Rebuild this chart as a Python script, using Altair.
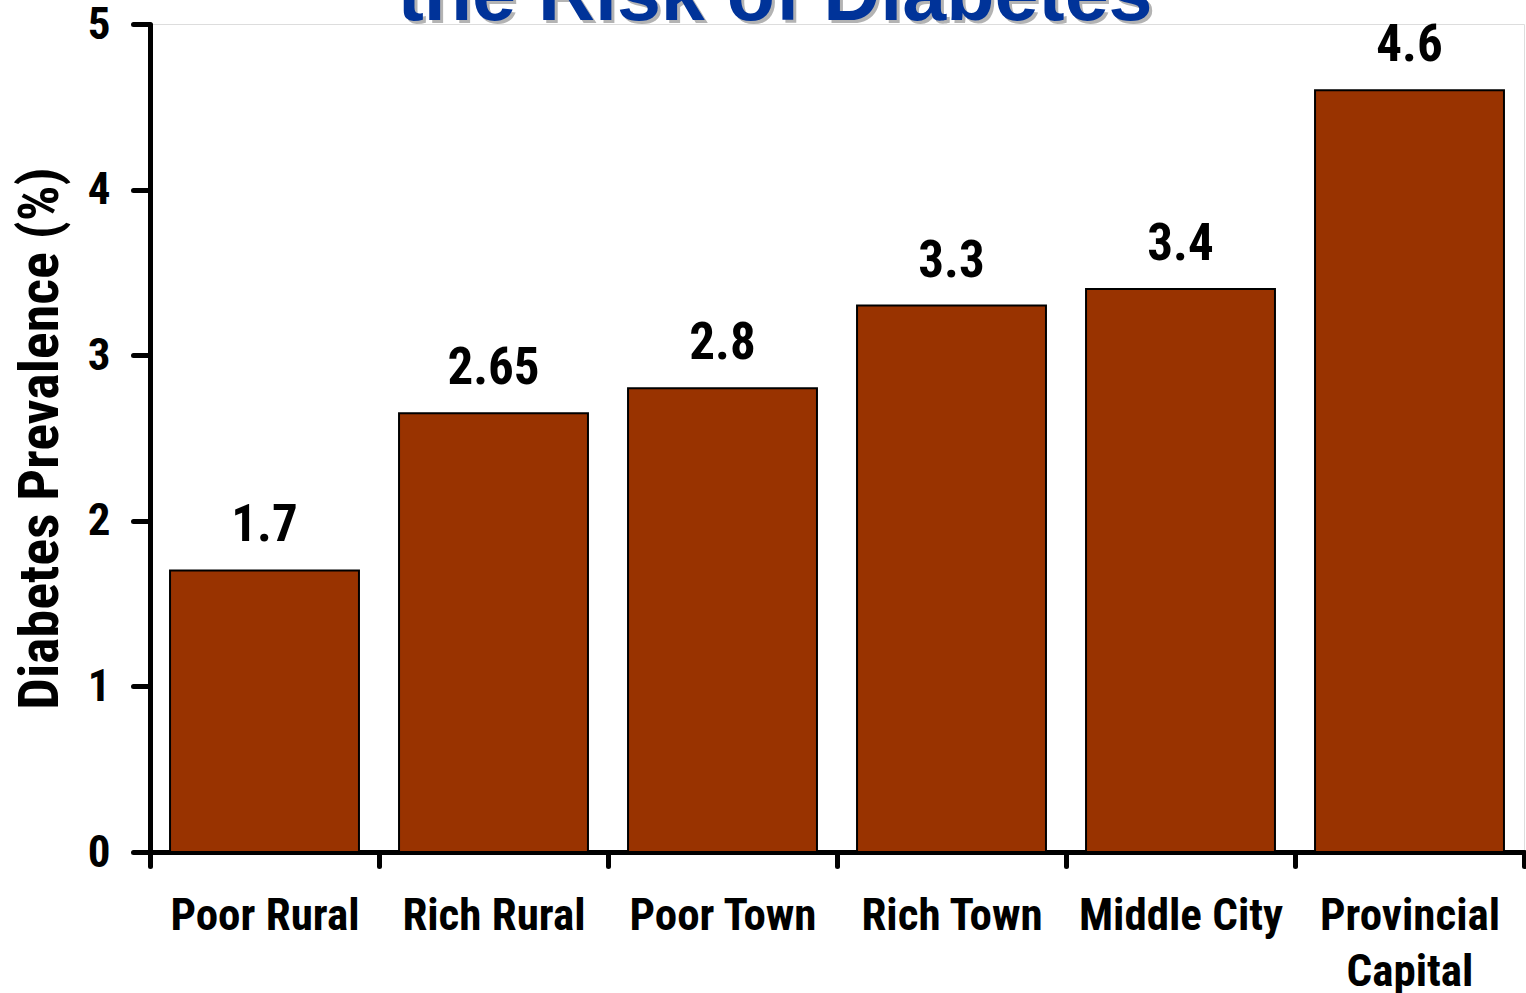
import altair as alt
import pandas as pd

categories = ["Poor Rural", "Rich Rural", "Poor Town", "Rich Town", "Middle City", "Provincial|Capital"]
prevalence = [1.7, 2.65, 2.8, 3.3, 3.4, 4.6]
value_labels = ["1.7", "2.65", "2.8", "3.3", "3.4", "4.6"]
y_ticks = [0, 1, 2, 3, 4, 5]
title_line = "the Risk of Diabetes"

NARROW = "Liberation Sans Narrow, Roboto Condensed, Roboto, sans-serif"
ARIAL = "Liberation Sans, Arial, sans-serif"

df = pd.DataFrame({"area": categories, "prev": prevalence, "lab": value_labels})

x_enc = alt.X(
    "area:N",
    sort=categories,
    scale=alt.Scale(paddingInner=0, paddingOuter=0),
    axis=alt.Axis(
        title=None,
        labelAngle=0,
        labelExpr="split(datum.label, '|')",
        labelFont=NARROW,
        labelFontSize=45,
        labelFontWeight="bold",
        labelColor="black",
        labelPadding=27,
        labelLineHeight=56,
        labelBaseline="top",
        labelLimit=0,
        tickBand="extent",
        tickSize=14,
        tickWidth=5,
        tickColor="black",
        tickCap="round",
        domainWidth=5,
        domainColor="black",
    ),
)

y_enc = alt.Y(
    "prev:Q",
    scale=alt.Scale(domain=[0, 5], nice=False),
    axis=alt.Axis(
        title="Diabetes Prevalence (%)",
        values=y_ticks,
        format="d",
        grid=False,
        labelFont=NARROW,
        labelFontSize=45,
        labelFontWeight="bold",
        labelColor="black",
        labelPadding=23,
        tickSize=17,
        tickWidth=5,
        tickColor="black",
        tickCap="round",
        domainWidth=5,
        domainColor="black",
        titleFont=NARROW,
        titleFontSize=56,
        titleFontWeight="bold",
        titleColor="black",
        titlePadding=18,
    ),
)

bars = alt.Chart(df).mark_bar(
    color="#993300", stroke="black", strokeWidth=2,
    width=alt.RelativeBandSize(0.825),
).encode(x=x_enc, y=y_enc)

values = alt.Chart(df).mark_text(
    font=NARROW, fontSize=51, fontWeight="bold", color="black",
    baseline="alphabetic", dy=-29,
).encode(x=alt.X("area:N", sort=categories), y="prev:Q", text="lab:N")

tdf = pd.DataFrame({"t": [title_line]})
shadow = alt.Chart(tdf).mark_text(
    font=ARIAL, fontSize=79, fontWeight="bold", color="#b3b3b3",
    baseline="alphabetic", align="center",
).encode(x=alt.value(628), y=alt.value(-1), text="t:N")
title = alt.Chart(tdf).mark_text(
    font=ARIAL, fontSize=79, fontWeight="bold", color="#003399",
    baseline="alphabetic", align="center",
).encode(x=alt.value(625), y=alt.value(-4), text="t:N")

chart = (
    alt.layer(bars, values, shadow, title)
    .properties(
        width=1374,
        height=828,
        autosize=alt.AutoSizeParams(type="none"),
        padding={"left": 150, "top": 24, "right": 2, "bottom": 141},
    )
    .configure_view(stroke=None)
    .configure(background="white")
)

chart.save("out.html", embed_options={"renderer": "svg", "actions": False})
